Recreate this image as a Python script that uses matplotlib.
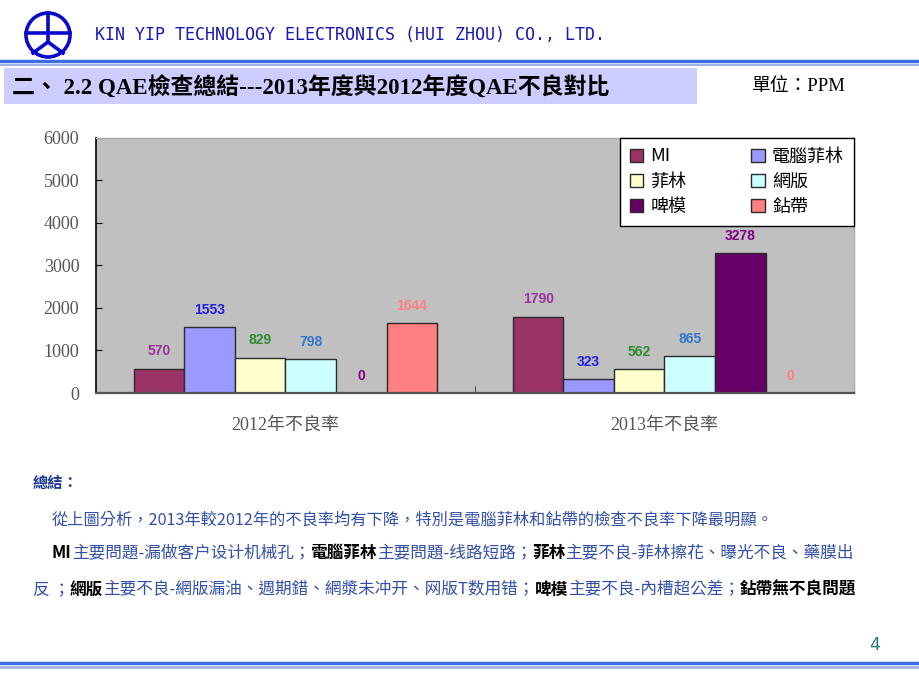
import matplotlib
matplotlib.use('Agg')
import matplotlib.pyplot as plt
import numpy as np
from matplotlib.patches import Circle, Rectangle

# data
categories = ['2012年不良率', '2013年不良率']
series = ['MI', '電腦菲林', '菲林', '網版', '啤模', '鉆帶']
mi = [570, 1790]
pc_film = [1553, 323]
film = [829, 562]
screen = [798, 865]
die = [0, 3278]
drill = [1644, 0]
values = [mi, pc_film, film, screen, die, drill]
yticks = [0, 1000, 2000, 3000, 4000, 5000, 6000]

bar_colors = ['#993366', '#9999FF', '#FFFFCC', '#CCFFFF', '#660066', '#FF8080']
label_colors = ['#993399', '#1F1FE0', '#2E8B2E', '#3377CC', '#800080', '#FF8080']

CJK = 'Noto Sans CJK TC'
SERIF = ['Liberation Serif', CJK]
plt.rcParams['font.family'] = [CJK, 'DejaVu Sans']

fig = plt.figure(figsize=(9.2, 6.9), dpi=100)

# page decorations in pixel coordinates
bg = fig.add_axes([0, 0, 1, 1])
bg.set_xlim(0, 920)
bg.set_ylim(690, 0)
bg.axis('off')

blue = '#0A0ACC'
bg.add_patch(Circle((48, 35), 22, fill=False, ec=blue, lw=2.6))
bg.plot([26, 70], [33, 33], color=blue, lw=2.6)
bg.plot([48, 48], [13, 42], color=blue, lw=2.6)
bg.plot([48, 33], [42, 53], color=blue, lw=2.6)
bg.plot([48, 63], [42, 53], color=blue, lw=2.6)
bg.text(95, 35, 'KIN YIP TECHNOLOGY ELECTRONICS (HUI ZHOU) CO., LTD.',
        family='DejaVu Sans Mono', fontsize=12, color='#1A1AB0', va='center')

bg.plot([0, 920], [61, 61], color='#3E6EE6', lw=2.5)
bg.plot([0, 920], [64.5, 64.5], color='#9DB0E8', lw=1.5)
bg.plot([0, 920], [663, 663], color='#3E6EE6', lw=2.5)
bg.plot([0, 920], [667, 667], color='#9DAAE0', lw=1.8)

bg.add_patch(Rectangle((4, 68), 693, 36, color='#CCCCFF', lw=0))
bg.text(12, 87, '二、 2.2 QAE檢查總結---2013年度與2012年度QAE不良對比',
        family=['Liberation Serif', CJK], fontweight='bold', fontsize=16.5, va='center')
bg.text(752, 87, '單位：PPM', family=SERIF, fontsize=13.5, va='center')

# chart
ax = fig.add_axes([96 / 920, 1 - 393 / 690, 758 / 920, 255.5 / 690])
ax.set_facecolor('#C0C0C0')
x = np.arange(len(categories))
w = 0.8 / len(series)
for i, name in enumerate(series):
    pos = x + (i - 2.5) * w
    ax.bar(pos, values[i], w, color=bar_colors[i], edgecolor='#2A2A2A', lw=1.0,
           label=name, zorder=2)
    for px, v in zip(pos, values[i]):
        ax.annotate(str(v), (px, v), xytext=(0, 12.5), textcoords='offset points',
                    ha='center', va='center', fontsize=10, fontweight='bold',
                    family='Liberation Sans', color=label_colors[i])

ax.set_xlim(-0.5, 1.5)
ax.set_ylim(0, 6000)
ax.set_yticks(yticks)
ax.set_yticklabels([str(t) for t in yticks], family=SERIF, fontsize=13, color='#555555')
ax.set_xticks(x)
ax.set_xticklabels(categories, family=SERIF, fontsize=13, color='#555555')
ax.tick_params(axis='x', which='major', length=0, pad=17)
ax.set_xticks([0.5], minor=True)
ax.tick_params(axis='x', which='minor', direction='in', length=5, color='#333333')
ax.tick_params(axis='y', direction='in', length=4, pad=12)
ax.spines['left'].set_color('black')
ax.spines['left'].set_linewidth(1.2)
ax.spines['bottom'].set_color('#555555')
ax.spines['bottom'].set_linewidth(1.6)
for s in ['top', 'right']:
    ax.spines[s].set_color('#A8A8A8')
    ax.spines[s].set_linewidth(1.0)

h, l = ax.get_legend_handles_labels()
order = [0, 2, 4, 1, 3, 5]
leg = ax.legend([h[k] for k in order], [l[k] for k in order], ncol=2,
                loc='upper right', bbox_to_anchor=(1.0, 1.0), borderaxespad=0,
                fancybox=False, framealpha=1, edgecolor='black',
                prop={'family': [CJK], 'size': 13},
                handlelength=0.75, handleheight=0.75, handletextpad=0.4,
                columnspacing=3.6, labelspacing=0.4, borderpad=0.55)
leg.get_frame().set_linewidth(1.0)

# summary text
tblue = '#3350A8'


def rainbow(x0, y0, parts, size=12):
    prev = None
    for s, c, wgt in parts:
        if prev is None:
            prev = bg.text(x0, y0, s, color=c, fontweight=wgt, fontsize=size,
                           family=[CJK], va='center', ha='left')
        else:
            prev = bg.annotate(s, xy=(1, 0), xycoords=prev, color=c, fontweight=wgt,
                               fontsize=size, family=[CJK], va='bottom', ha='left')


bg.text(33, 483, '總結：', color='#1F3A93', fontweight='bold', fontsize=11, va='center')
rainbow(52, 520, [('從上圖分析，2013年較2012年的不良率均有下降，特別是電腦菲林和鉆帶的檢查不良率下降最明顯。',
                   tblue, 'normal')], size=11.7)
rainbow(52, 553, [('MI', 'black', 'bold'),
                  ('主要問題-漏做客户设计机械孔；', tblue, 'normal'),
                  ('電腦菲林', 'black', 'bold'),
                  ('主要問題-线路短路；', tblue, 'normal'),
                  ('菲林', 'black', 'bold'),
                  ('主要不良-菲林擦花、曝光不良、藥膜出', tblue, 'normal')], size=12)
rainbow(33, 590, [('反 ；', tblue, 'normal'),
                  ('網版', 'black', 'bold'),
                  ('主要不良-網版漏油、週期錯、網漿未冲开、网版T数用错；', tblue, 'normal'),
                  ('啤模', 'black', 'bold'),
                  ('主要不良-內槽超公差；', tblue, 'normal'),
                  ('鉆帶無不良問題', 'black', 'bold')], size=12)

bg.text(875, 645, '4', color='#1F7F74', fontsize=12.5, family='DejaVu Sans',
        ha='center', va='center')

fig.savefig('out.png', dpi=100)
